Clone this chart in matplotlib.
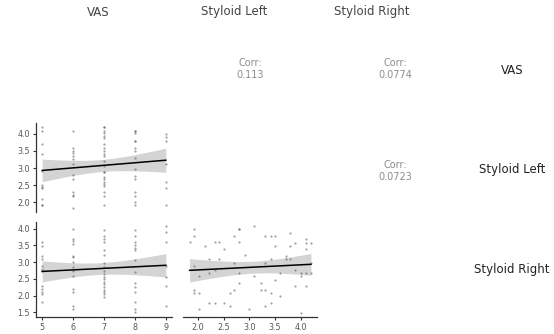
import numpy as np
import matplotlib
matplotlib.use("Agg")
import matplotlib.pyplot as plt

# VAS score vs styloid left
vas_a = [5]*11 + [6]*13 + [7]*23 + [8]*15 + [9]*7
left_a = [4.19, 4.09, 3.70, 3.40, 2.91, 2.50, 2.45, 2.40, 2.08, 1.92, 1.92,
          4.07, 3.60, 3.50, 3.43, 3.34, 3.27, 3.11, 2.79, 2.68, 2.31, 2.22, 2.17, 1.83,
          4.19, 4.19, 4.09, 4.03, 3.95, 3.89, 3.69, 3.60, 3.49, 3.42, 3.35, 3.21, 3.06, 2.89,
          2.89, 2.75, 2.68, 2.60, 2.52, 2.47, 2.31, 2.19, 1.92,
          4.09, 4.09, 4.03, 3.79, 3.79, 3.60, 3.51, 3.29, 2.98, 2.77, 2.69, 2.29, 2.19, 1.99, 1.92,
          4.00, 3.91, 3.79, 3.12, 2.58, 2.40, 1.92]

# VAS score vs styloid right
vas_b = [5]*12 + [6]*14 + [7]*19 + [8]*14 + [9]*7
right_b = [3.59, 3.49, 3.19, 3.09, 2.89, 2.79, 2.74, 2.29, 2.19, 2.10, 2.04, 1.80,
           3.99, 3.69, 3.64, 3.54, 3.19, 3.14, 2.99, 2.84, 2.74, 2.59, 2.19, 2.10, 1.70, 1.60,
           3.96, 3.77, 3.70, 3.60, 3.37, 3.20, 2.97, 2.85, 2.73, 2.65, 2.57, 2.49, 2.42,
           2.35, 2.25, 2.17, 2.10, 2.04, 1.96,
           3.96, 3.77, 3.60, 3.50, 3.43, 3.35, 3.07, 2.70, 2.37, 2.25, 2.10, 1.81, 1.61, 1.51,
           4.07, 3.90, 3.60, 2.87, 2.57, 2.28, 1.68]

# styloid left vs styloid right
left_c = [1.92, 1.92, 1.84, 2.80, 2.80, 2.71, 2.81, 2.33, 2.42, 2.13, 2.51, 2.92,
          2.22, 2.42, 2.71, 1.92, 2.22, 2.02, 2.33, 2.81, 2.81, 2.71, 2.63, 1.92,
          1.92, 2.02, 2.22, 2.33, 2.51, 2.63, 2.02, 2.99,
          3.10, 3.80, 3.30, 3.42, 3.51, 4.10, 4.10, 4.20, 3.90, 3.51, 3.80, 4.10,
          3.71, 3.42, 3.71, 3.80, 3.30, 4.20, 3.90, 4.00, 4.10, 4.20, 3.60, 4.00,
          3.10, 3.51, 3.22, 3.90, 4.10, 3.22, 3.30, 3.42, 3.60, 3.42, 3.30, 4.00]
right_c = [3.98, 3.78, 3.60, 3.98, 3.98, 3.78, 3.60, 3.60, 3.60, 3.48, 3.38, 3.20,
           3.08, 3.08, 2.98, 2.88, 2.68, 2.58, 2.78, 2.68, 2.38, 2.18, 2.08, 2.18,
           2.08, 2.08, 1.78, 1.78, 1.78, 1.69, 1.59, 1.59,
           4.07, 3.88, 3.78, 3.78, 3.78, 3.68, 3.58, 3.58, 3.58, 3.48, 3.48, 3.38,
           3.18, 3.08, 3.08, 3.08, 2.98, 2.98, 2.78, 2.68, 2.68, 2.68, 2.68, 2.58,
           2.58, 2.48, 2.38, 2.28, 2.28, 2.18, 2.18, 2.08, 1.98, 1.78, 1.69, 1.49]

var_names = ["VAS", "Styloid Left", "Styloid Right"]
corr_labels = ["0.113", "0.0774", "0.0723"]

W, H = 554, 334
fig = plt.figure(figsize=(W / 100, H / 100), dpi=100)
fig.patch.set_facecolor("white")
plt.rcParams["font.family"] = ["DejaVu Sans"]

T975 = 1.99


def px_axes(x0, y0, x1, y1):
    return fig.add_axes([x0 / W, 1 - y1 / H, (x1 - x0) / W, (y1 - y0) / H])


def expand(lo, hi, f=0.05):
    d = (hi - lo) * f
    return lo - d, hi + d


def smooth_panel(ax, x, y, xlim, ylim, show_left, show_bottom, xticks, yticks):
    x = np.asarray(x, float)
    y = np.asarray(y, float)
    ax.scatter(x, y, s=2.5, color="#555555", alpha=0.55, linewidths=0, zorder=2)
    # linear fit with 95% confidence band
    n = len(x)
    b, a = np.polyfit(x, y, 1)
    resid = y - (a + b * x)
    s = np.sqrt(np.sum(resid ** 2) / (n - 2))
    xs = np.linspace(x.min(), x.max(), 80)
    se = s * np.sqrt(1 / n + (xs - x.mean()) ** 2 / np.sum((x - x.mean()) ** 2))
    fit = a + b * xs
    ax.fill_between(xs, fit - T975 * se, fit + T975 * se, color="#d4d4d4",
                    linewidth=0, zorder=1)
    ax.plot(xs, fit, color="black", lw=1.1, zorder=3)
    ax.set_xlim(xlim)
    ax.set_ylim(ylim)
    for side in ["top", "right"]:
        ax.spines[side].set_visible(False)
    ax.spines["left"].set_visible(show_left)
    ax.spines["bottom"].set_visible(show_bottom)
    for side in ["left", "bottom"]:
        ax.spines[side].set_color("#333333")
        ax.spines[side].set_linewidth(0.9)
    ax.set_xticks(xticks)
    ax.set_yticks(yticks)
    ax.tick_params(axis="both", length=2.5, width=0.8, color="#333333",
                   labelsize=5.8, labelcolor="#555555", pad=2)
    if not show_left:
        ax.tick_params(axis="y", left=False, labelleft=False)
    if not show_bottom:
        ax.tick_params(axis="x", bottom=False, labelbottom=False)
    ax.set_facecolor("white")


vas_lim = expand(min(vas_a + vas_b), max(vas_a + vas_b))
left_lim = expand(min(left_a + left_c), max(left_a + left_c))
right_lim = expand(min(right_b + right_c), max(right_b + right_c))

vas_ticks = [5, 6, 7, 8, 9]
left_ticks = [2.0, 2.5, 3.0, 3.5, 4.0]
right_ticks = [1.5, 2.0, 2.5, 3.0, 3.5, 4.0]

ax_a = px_axes(36, 123, 172, 212)
smooth_panel(ax_a, vas_a, left_a, vas_lim, left_lim, True, False, vas_ticks, left_ticks)
ax_b = px_axes(36, 222, 172, 317)
smooth_panel(ax_b, vas_b, right_b, vas_lim, right_lim, True, True, vas_ticks, right_ticks)
ax_c = px_axes(183, 222, 317, 317)
smooth_panel(ax_c, left_c, right_c, left_lim, right_lim, False, True, left_ticks, right_ticks)
ax_c.xaxis.set_major_formatter(matplotlib.ticker.FormatStrFormatter("%.1f"))
ax_a.yaxis.set_major_formatter(matplotlib.ticker.FormatStrFormatter("%.1f"))
ax_b.yaxis.set_major_formatter(matplotlib.ticker.FormatStrFormatter("%.1f"))

# column titles along the top
for name, cx in zip(var_names, [98, 234, 372]):
    fig.text(cx / W, 1 - 12 / H, name, ha="center", va="center",
             fontsize=8.5, color="#444444")

# row titles on the right
for name, cy in zip(var_names, [70, 170, 270]):
    fig.text(512 / W, 1 - cy / H, name, ha="center", va="center",
             fontsize=8.5, color="#222222")

# correlation cells in the upper triangle
for lab, (cx, cy) in zip(corr_labels, [(250, 69), (395, 69), (395, 171)]):
    fig.text(cx / W, 1 - cy / H, "Corr:\n" + lab, ha="center", va="center",
             fontsize=7, color="#8c8c8c", linespacing=1.15)

fig.savefig("out.png", dpi=100, facecolor="white")
